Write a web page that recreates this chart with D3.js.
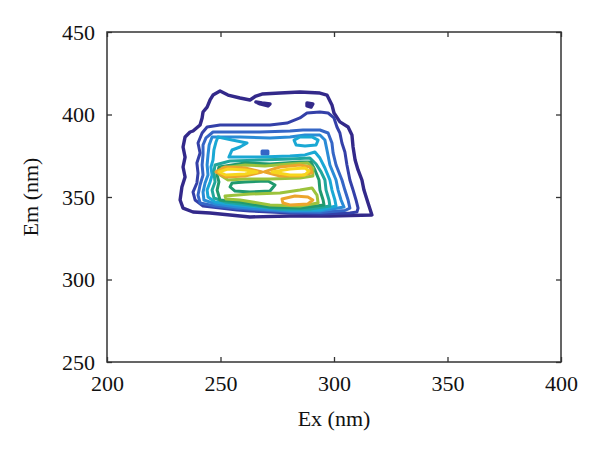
<!DOCTYPE html>
<html>
<meta charset="utf-8">
<head>
<script src="https://d3js.org/d3.v7.min.js"></script>
<style>
  body { margin: 0; background: #fff; }
  text { font-family: "Liberation Serif", "DejaVu Serif", serif; fill: #111; }
</style>
</head>
<body>
<div id="chart"></div>
<script>
// axis ticks
var exTicks = [200, 250, 300, 350, 400];
var emTicks = [250, 300, 350, 400, 450];

// contour lines, [Ex, Em] in nm, one array per closed line
var level1 = [[249.8,414.2],[253.3,411.8],[258.6,410.0],[263.0,408.8],[265.6,411.2],[268.3,412.4],[276.2,413.0],[285.0,413.6],[293.8,413.0],[296.9,411.8],[299.1,405.8],[300.0,400.9],[302.6,395.5],[306.2,392.4],[307.9,387.6],[308.4,380.3],[309.3,372.4],[310.6,366.4],[312.3,360.3],[313.2,354.2],[315.0,346.4],[316.7,339.1],[298.2,338.5],[280.6,338.5],[263.0,337.9],[254.2,339.1],[245.4,340.3],[237.9,340.9],[233.5,343.3],[232.2,348.2],[233.0,356.1],[234.4,362.1],[233.5,368.2],[234.4,374.2],[233.5,380.3],[234.4,386.4],[236.6,389.4],[237.9,390.0],[241.0,393.6],[241.9,397.9],[242.3,401.5],[244.1,404.5],[245.4,408.8],[246.7,411.8]];
var level1hook = [[265.6,407.6],[268.3,407.0],[271.8,406.4],[270.9,405.2],[267.4,406.4]];
var level1dot = [[288.1,407.0],[290.7,406.4],[289.9,404.5],[288.1,405.2]];
var level2 = [[244.1,392.4],[249.8,393.6],[258.6,393.6],[271.8,393.6],[279.3,394.8],[285.0,397.9],[288.1,400.9],[293.8,401.5],[297.4,400.9],[300.0,397.9],[301.3,392.4],[302.6,388.8],[303.5,382.7],[304.8,377.3],[305.7,369.4],[307.0,360.3],[308.4,354.2],[309.7,348.2],[310.6,343.3],[310.1,340.9],[307.0,340.3],[293.8,339.7],[280.6,340.3],[263.0,341.5],[257.3,342.1],[249.8,343.3],[242.3,344.5],[238.8,348.2],[237.9,353.0],[239.6,358.5],[240.1,364.5],[239.6,370.6],[241.0,376.7],[240.1,382.7],[241.9,388.8]];
var level3 = [[246.7,389.4],[254.2,389.4],[267.4,389.4],[280.6,390.0],[286.3,390.6],[293.8,390.6],[297.4,388.8],[299.1,382.7],[299.6,376.7],[300.9,369.4],[303.5,360.3],[304.8,354.2],[306.2,348.2],[307.0,343.3],[304.8,341.8],[293.8,340.6],[280.6,340.9],[267.4,342.1],[257.3,343.0],[247.6,344.5],[241.0,346.4],[240.1,351.2],[241.0,357.3],[242.3,363.3],[241.9,369.4],[242.3,375.5],[242.3,381.5],[243.6,385.8]];
var level3dot = [[268.3,377.9],[270.9,377.9],[270.9,376.1],[268.3,376.1]];
var level4 = [[246.3,386.4],[258.6,386.4],[271.8,385.8],[280.6,386.4],[287.2,387.6],[293.8,387.6],[296.0,384.5],[296.9,378.5],[298.2,369.4],[300.9,360.3],[301.8,354.2],[303.1,348.2],[304.4,343.9],[293.8,341.5],[280.6,341.5],[267.4,342.7],[257.3,343.9],[247.6,345.8],[242.7,348.2],[242.3,353.0],[243.2,358.5],[244.5,363.3],[244.1,369.4],[244.5,375.5],[245.0,381.5]];
var level5 = [[248.9,386.4],[255.1,384.5],[261.7,382.7],[258.6,380.3],[255.1,378.5],[253.7,374.2],[267.4,374.2],[280.6,374.8],[287.2,375.5],[291.6,377.3],[293.8,373.6],[296.0,367.6],[298.2,360.3],[299.1,354.2],[300.4,348.2],[300.9,344.5],[293.8,342.1],[280.6,342.1],[267.4,343.9],[257.3,345.2],[247.6,347.0],[244.5,350.0],[244.1,354.2],[245.4,359.1],[246.3,363.3],[245.8,368.2],[246.7,372.4],[247.1,378.5],[248.0,383.3]];
var level5right = [[282.4,384.5],[285.0,386.4],[290.3,386.4],[293.0,384.5],[292.1,381.5],[287.2,380.9],[283.3,381.5]];
var level6 = [[247.6,369.4],[254.2,371.8],[267.4,372.4],[280.6,373.0],[289.4,373.6],[292.1,370.0],[294.3,365.2],[296.0,360.3],[296.5,354.2],[297.8,348.2],[298.2,344.5],[289.4,342.7],[276.2,342.7],[263.0,345.2],[252.0,347.0],[247.1,349.4],[246.3,354.2],[247.6,359.1],[247.1,365.2]];
var level7 = [[249.3,368.2],[260.8,370.6],[271.8,370.0],[285.0,371.2],[289.8,371.2],[291.6,366.4],[293.4,360.3],[293.8,354.2],[295.2,348.2],[295.6,345.2],[285.0,343.3],[271.8,343.9],[258.6,347.0],[249.8,348.2],[248.5,354.2],[249.3,359.1],[248.5,363.3]];
var level7hole = [[255.1,358.5],[260.8,359.1],[270.9,359.7],[274.0,357.3],[271.8,353.6],[263.0,353.0],[256.4,353.6],[254.2,356.1]];
var level8upper = [[250.7,367.6],[260.8,369.4],[269.6,368.8],[280.6,370.0],[288.5,370.6],[290.7,367.6],[290.7,362.7],[285.0,361.5],[271.8,360.9],[260.8,360.9],[253.3,360.3],[249.8,363.3]];
var level8lower = [[252.0,350.6],[263.0,351.8],[276.2,352.4],[285.0,354.2],[290.3,355.5],[292.5,351.2],[293.0,346.4],[285.0,344.5],[271.8,345.2],[258.6,348.2],[252.4,348.8]];
var level9left = [[248.0,365.2],[252.0,368.2],[260.8,367.6],[268.3,365.2],[260.8,362.7],[252.0,362.1]];
var level9right = [[269.2,365.2],[276.2,368.2],[285.0,369.4],[289.4,368.2],[290.3,364.6],[285.0,362.7],[276.2,362.7]];
var level9lower = [[277.1,348.8],[282.8,350.6],[288.5,350.0],[290.7,348.2],[288.5,345.8],[280.6,345.2],[277.5,346.4]];
var level10left = [[249.3,365.2],[253.3,367.0],[260.8,366.4],[266.1,365.2],[260.8,364.0],[252.4,363.3]];
var level10right = [[272.7,365.2],[280.6,367.0],[287.2,367.6],[289.0,365.8],[287.2,363.3],[280.6,363.3]];

// which level each line belongs to
var contourLines = [
  [1, level1], [1, level1hook], [1, level1dot],
  [2, level2],
  [3, level3], [3, level3dot],
  [4, level4],
  [5, level5], [5, level5right],
  [6, level6],
  [7, level7], [7, level7hole],
  [8, level8upper], [8, level8lower],
  [9, level9left], [9, level9right], [9, level9lower],
  [10, level10left], [10, level10right]
];

// parula-like colours per level
var levelColors = ["#33298a", "#3440a8", "#3566c6", "#2a8bd6", "#1aa8d4",
                   "#20a69c", "#219a6e", "#9cc33c", "#eca52c", "#f7d61e"];

var W = 600, H = 455;
var margin = {top: 32, right: 39, bottom: 93, left: 107};
var width = W - margin.left - margin.right,
    height = H - margin.top - margin.bottom;

var svg = d3.select("#chart").append("svg")
    .attr("width", W)
    .attr("height", H)
  .append("g")
    .attr("transform", "translate(" + margin.left + "," + margin.top + ")");

var x = d3.scaleLinear().domain([200, 400]).range([0, width]);
var y = d3.scaleLinear().domain([250, 450]).range([height, 0]);

// clip so nothing spills past the box
svg.append("clipPath").attr("id", "clip")
  .append("rect").attr("width", width).attr("height", height);

var line = d3.line()
    .x(function(d) { return x(d[0]); })
    .y(function(d) { return y(d[1]); })
    .curve(d3.curveLinearClosed);

svg.append("g")
    .attr("clip-path", "url(#clip)")
  .selectAll("path")
  .data(contourLines)
  .enter().append("path")
    .attr("d", function(d) { return line(d[1]); })
    .attr("fill", "none")
    .attr("stroke", function(d) { return levelColors[d[0] - 1]; })
    .attr("stroke-width", function(d) { return d[0] == 1 ? 3.4 : 3; })
    .attr("stroke-linejoin", "round");

// axes, ticks point inward on all four sides
function styleAxis(g) {
  g.selectAll(".domain").remove();
  g.selectAll(".tick line").attr("stroke", "#333").attr("stroke-width", 1.3);
  g.selectAll("text")
    .style("font-size", "22px")
    .style("font-family", "'Liberation Serif', 'DejaVu Serif', serif")
    .attr("fill", "#111");
}

svg.append("g")
    .attr("transform", "translate(0," + height + ")")
    .call(d3.axisBottom(x).tickValues(exTicks).tickSizeInner(-5).tickSizeOuter(0).tickPadding(13))
    .call(styleAxis);

svg.append("g")
    .call(d3.axisLeft(y).tickValues(emTicks).tickSizeInner(-5).tickSizeOuter(0).tickPadding(12))
    .call(styleAxis);

svg.append("g")
    .call(d3.axisTop(x).tickValues(exTicks).tickSizeInner(-5).tickSizeOuter(0).tickFormat(""))
    .call(styleAxis);

svg.append("g")
    .attr("transform", "translate(" + width + ",0)")
    .call(d3.axisRight(y).tickValues(emTicks).tickSizeInner(-5).tickSizeOuter(0).tickFormat(""))
    .call(styleAxis);

svg.append("rect")
    .attr("width", width)
    .attr("height", height)
    .attr("fill", "none")
    .attr("stroke", "#333")
    .attr("stroke-width", 1.5);

// axis titles
svg.append("text")
    .attr("x", width / 2)
    .attr("y", height + 64)
    .attr("text-anchor", "middle")
    .style("font-size", "22px")
    .text("Ex (nm)");

svg.append("text")
    .attr("transform", "translate(-69," + (height / 2) + ") rotate(-90)")
    .attr("text-anchor", "middle")
    .style("font-size", "22px")
    .text("Em (nm)");
</script>
</body>
</html>
